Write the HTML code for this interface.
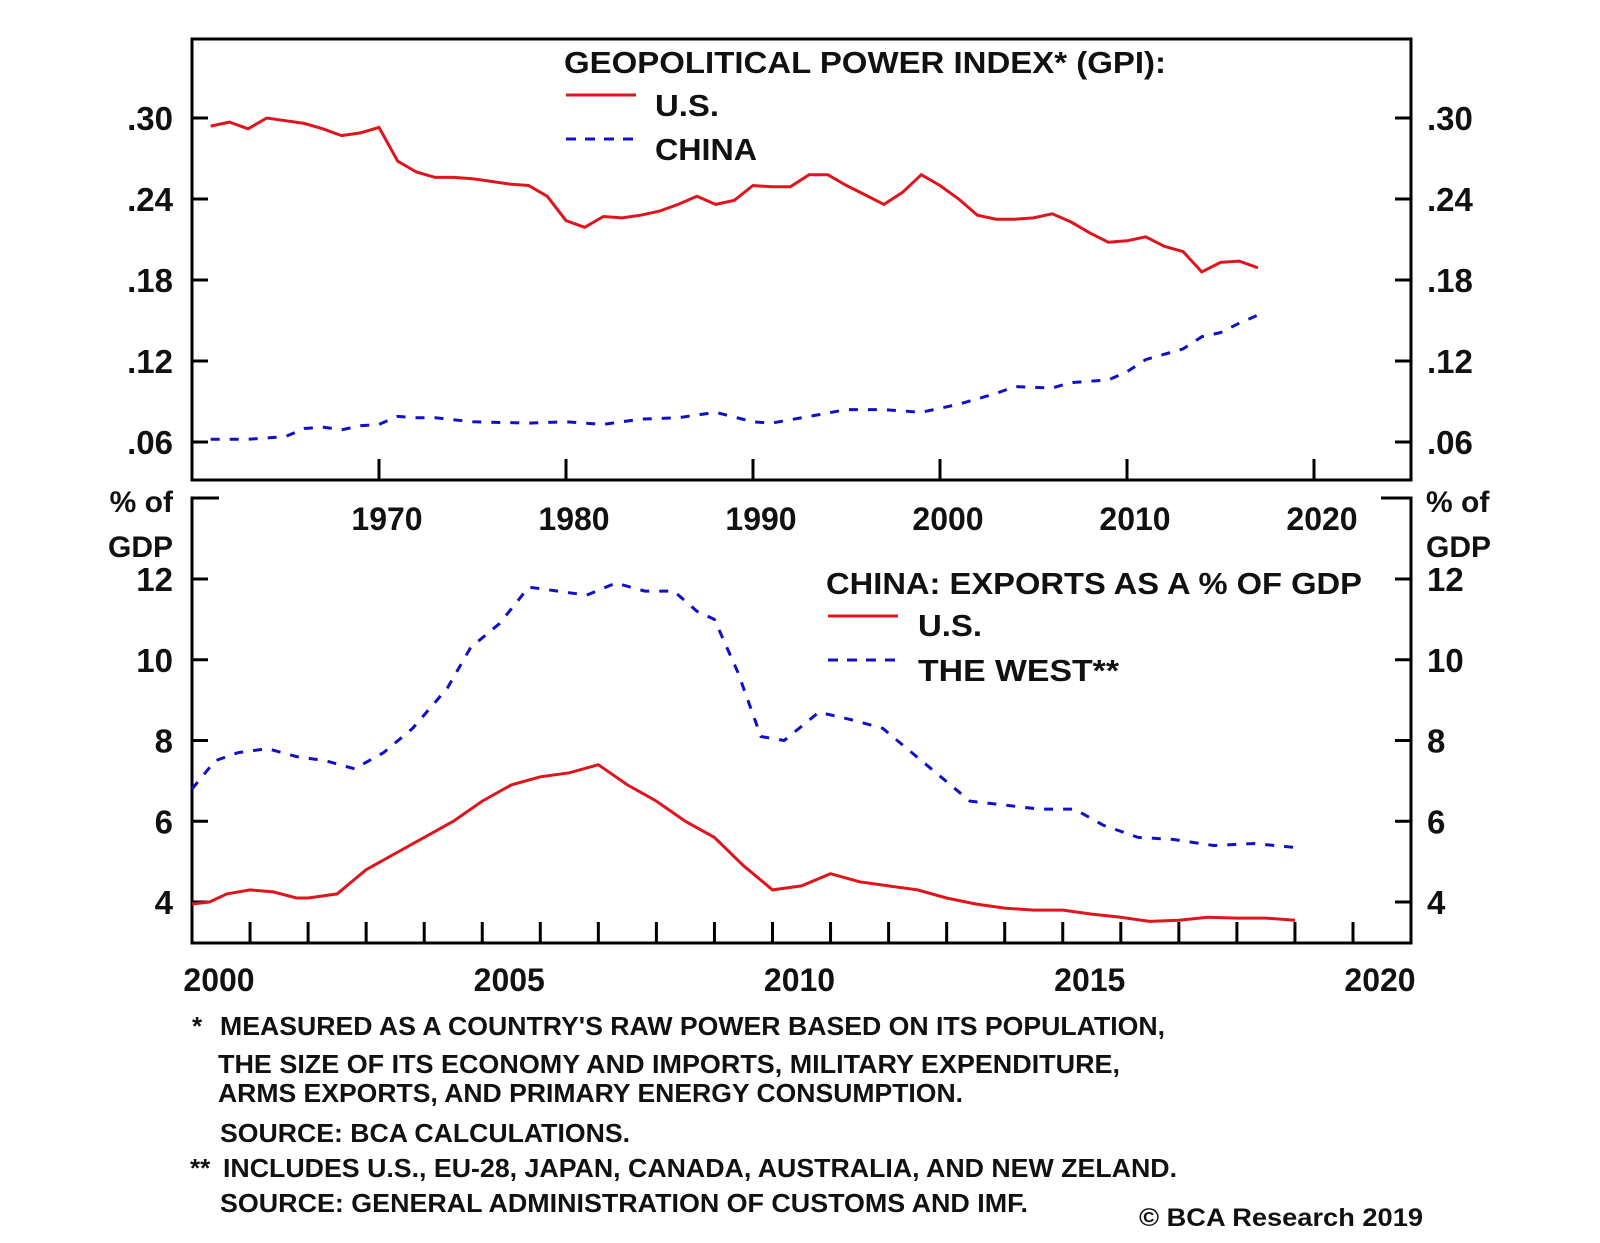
<!DOCTYPE html>
<html><head><meta charset="utf-8"><style>
html,body{margin:0;padding:0;background:#fff;}
svg{display:block;font-family:"Liberation Sans",Arial,sans-serif;font-weight:bold;}
</style></head><body>
<svg id="chart" width="1600" height="1243" viewBox="0 0 1600 1243">
<g id="g"></g>
</svg>
<script>
// top panel data
var gpiYears=[1961,1962,1963,1964,1965,1966,1967,1968,1969,1970,1971,1972,1973,1974,1975,1976,1977,1978,1979,1980,1981,1982,1983,1984,1985,1986,1987,1988,1989,1990,1991,1992,1993,1994,1995,1996,1997,1998,1999,2000,2001,2002,2003,2004,2005,2006,2007,2008,2009,2010,2011,2012,2013,2014,2015,2016,2017];
var gpiUS=[.294,.297,.292,.300,.298,.296,.292,.287,.289,.293,.268,.260,.256,.256,.255,.253,.251,.250,.242,.224,.219,.227,.226,.228,.231,.236,.242,.236,.239,.250,.249,.249,.258,.258,.250,.243,.236,.245,.258,.250,.240,.228,.225,.225,.226,.229,.223,.215,.208,.209,.212,.205,.201,.186,.193,.194,.189];
var chinaYears=[1961,1963,1965,1966,1967,1968,1969,1970,1971,1972,1973,1975,1978,1980,1982,1984,1986,1988,1990,1991,1993,1995,1997,1999,2001,2003,2004,2006,2007,2009,2010,2011,2013,2014,2015,2016,2017];
var gpiChina=[.062,.062,.064,.070,.071,.069,.072,.073,.079,.078,.078,.075,.074,.075,.073,.077,.078,.082,.075,.074,.079,.084,.084,.082,.088,.096,.101,.100,.104,.106,.112,.121,.129,.138,.141,.148,.154];
var topYTicks=[.06,.12,.18,.24,.30];
var topYLabels=[".06",".12",".18",".24",".30"];
var topXTicks=[1970,1980,1990,2000,2010,2020];
// bottom panel data
var expUSYears=[2000,2000.3,2000.6,2001,2001.4,2001.8,2002,2002.5,2003,2003.5,2004,2004.5,2005,2005.5,2006,2006.5,2007,2007.5,2008,2008.5,2009,2009.5,2010,2010.5,2011,2011.5,2012,2012.5,2013,2013.5,2014,2014.5,2015,2015.5,2016,2016.5,2017,2017.5,2018,2018.5,2019];
var expUS=[3.95,4.0,4.2,4.3,4.25,4.1,4.1,4.2,4.8,5.2,5.6,6.0,6.5,6.9,7.1,7.2,7.4,6.9,6.5,6.0,5.6,4.9,4.3,4.4,4.7,4.5,4.4,4.3,4.1,3.95,3.85,3.8,3.8,3.7,3.62,3.52,3.55,3.62,3.6,3.6,3.55];
var expWestYears=[2000,2000.4,2000.8,2001.3,2001.8,2002.3,2002.8,2003.3,2003.8,2004.4,2004.8,2005.3,2005.8,2006.3,2006.8,2007.3,2007.8,2008.3,2008.7,2009,2009.4,2009.8,2010.2,2010.8,2011.4,2011.9,2012.4,2012.9,2013.4,2014,2014.6,2015.2,2015.7,2016.3,2016.9,2017.6,2018.3,2019];
var expWest=[6.8,7.5,7.7,7.8,7.6,7.5,7.3,7.7,8.3,9.3,10.3,10.9,11.8,11.7,11.6,11.9,11.7,11.7,11.2,11.0,9.7,8.1,8.0,8.7,8.5,8.3,7.7,7.1,6.5,6.4,6.3,6.3,5.9,5.6,5.55,5.4,5.45,5.35];
var botYTicks=[4,6,8,10,12];
var botXLabels=[2000,2005,2010,2015,2020];

var NS="http://www.w3.org/2000/svg";
var g=document.getElementById('g');
function mk(tag,attrs,parent){var e=document.createElementNS(NS,tag);for(var k in attrs)e.setAttribute(k,attrs[k]);(parent||g).appendChild(e);return e;}
function txt(s,x,y,size,anchor,len,fill){var t=mk('text',{x:x,y:y,'font-size':size,'text-anchor':anchor||'start',fill:fill||'#111'});if(len){t.setAttribute('textLength',len);t.setAttribute('lengthAdjust','spacingAndGlyphs');}t.textContent=s;return t;}

var L=192,R=1411;
// top scales
function tx(yr){return L+(yr-1960)*18.7;}
function ty(v){return 442-(v-0.06)/0.06*81;}
// bottom scales
function bx(yr){return L+(yr-2000)*58.05;}
function by(v){return 902-(v-4)/2*80.75;}

// top frame
var f1=mk('rect',{x:L,y:39,width:R-L,height:441,fill:'none',stroke:'#000','stroke-width':3});


topYTicks.forEach(function(v,i){
  var y=ty(v);
  mk('line',{x1:L,x2:L+16,y1:y,y2:y,stroke:'#000','stroke-width':3});
  mk('line',{x1:R-16,x2:R,y1:y,y2:y,stroke:'#000','stroke-width':3});
  var a=txt(topYLabels[i],173,y+12,33,'end');
  
  
  var b=txt(topYLabels[i],1427,y+12,33,'start');
  
  
});
topXTicks.forEach(function(yr){
  var x=tx(yr);
  mk('line',{x1:x,x2:x,y1:459,y2:480,stroke:'#000','stroke-width':3});
  var t=txt(String(yr),x+8,530,32,'middle');
  
  
});
function path(xs,ys,fx,fy){return xs.map(function(x,i){return (i?'L':'M')+fx(x).toFixed(1)+' '+fy(ys[i]).toFixed(1);}).join(' ');}
var p1=mk('path',{d:path(gpiYears,gpiUS,tx,ty),fill:'none',stroke:'#e0141c','stroke-width':3});


var p2=mk('path',{d:path(chinaYears,gpiChina,tx,ty),fill:'none',stroke:'#1010c8','stroke-width':3,'stroke-dasharray':'9 10'});


var t1=txt('GEOPOLITICAL POWER INDEX* (GPI):',564,73,31,'start',602);


mk('line',{x1:566,x2:636,y1:95,y2:95,stroke:'#e0141c','stroke-width':3});
var t2=txt('U.S.',655,116,31,'start',64);


mk('line',{x1:566,x2:636,y1:139,y2:139,stroke:'#1010c8','stroke-width':3,'stroke-dasharray':'10 9'});
var t3=txt('CHINA',655,160,31,'start',102);



// bottom frame
var f2=mk('path',{d:'M'+(L+27)+' 498 H'+L+' V943 H'+R+' V498 H'+(R-30),fill:'none',stroke:'#000','stroke-width':3});


botYTicks.forEach(function(v){
  var y=by(v);
  mk('line',{x1:L,x2:L+16,y1:y,y2:y,stroke:'#000','stroke-width':3});
  mk('line',{x1:R-16,x2:R,y1:y,y2:y,stroke:'#000','stroke-width':3});
  var a=txt(String(v),173,y+12,33,'end');
  
  
  var b=txt(String(v),1427,y+12,33,'start');
  
  
});
for(var yr=2001;yr<=2020;yr++){var x=bx(yr);mk('line',{x1:x,x2:x,y1:922,y2:943,stroke:'#000','stroke-width':3});}
botXLabels.forEach(function(yr){
  var t=txt(String(yr),bx(yr)+27,991,32,'middle');
  
  
});
[['% of',173,'end'],['% of',1426,'start']].forEach(function(a){
  var t=txt(a[0],a[1],512,30,a[2]);
  
  
  var u=txt('GDP',a[1],557,30,a[2]);
  
  
});
var p3=mk('path',{d:path(expUSYears,expUS,bx,by),fill:'none',stroke:'#e0141c','stroke-width':3});


var p4=mk('path',{d:path(expWestYears,expWest,bx,by),fill:'none',stroke:'#1010c8','stroke-width':3,'stroke-dasharray':'9 10'});


var t4=txt('CHINA: EXPORTS AS A % OF GDP',826,594,31,'start',536);


mk('line',{x1:828,x2:898,y1:616,y2:616,stroke:'#e0141c','stroke-width':3});
var t5=txt('U.S.',918,636,31,'start',64);


mk('line',{x1:828,x2:898,y1:660,y2:660,stroke:'#1010c8','stroke-width':3,'stroke-dasharray':'10 9'});
var t6=txt('THE WEST**',918,681,31,'start',201);



// footnotes
var notes=[['*',192,1035,null,null],["MEASURED AS A COUNTRY'S RAW POWER BASED ON ITS POPULATION,",220,1035,945],
['THE SIZE OF ITS ECONOMY AND IMPORTS, MILITARY EXPENDITURE,',218,1073,902],
['ARMS EXPORTS, AND PRIMARY ENERGY CONSUMPTION.',218,1102,745],
['SOURCE: BCA CALCULATIONS.',220,1142,410],
['**',190,1177,null],['INCLUDES U.S., EU-28, JAPAN, CANADA, AUSTRALIA, AND NEW ZELAND.',223,1177,954],
['SOURCE: GENERAL ADMINISTRATION OF CUSTOMS AND IMF.',220,1212,808]];
notes.forEach(function(n){
  var t=txt(n[0],n[1],n[2],26,'start',n[3]);
  
  
});
var c=txt('© BCA Research 2019',1139,1226,25,'start',284);


</script>
</body></html>
